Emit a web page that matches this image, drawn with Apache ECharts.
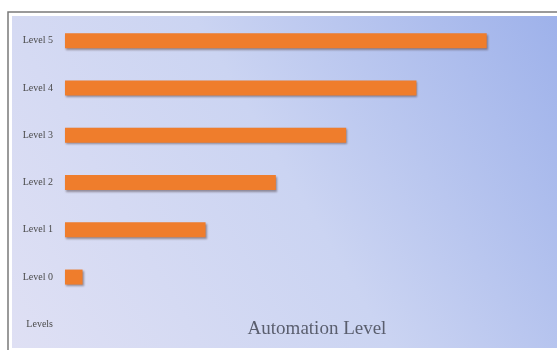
<!DOCTYPE html>
<html><head><meta charset="utf-8">
<script src="https://cdn.jsdelivr.net/npm/echarts@6/dist/echarts.min.js"></script>
<style>html,body{margin:0;padding:0;background:#fff}#c{width:557px;height:350px}</style>
</head><body><div id="c"></div>
<script>
var categories = ['Level 5','Level 4','Level 3','Level 2','Level 1','Level 0','Levels'];
var values = [6, 5, 4, 3, 2, 0.25, null];
var chartTitle = 'Automation Level';

var chart = echarts.init(document.getElementById('c'));
chart.setOption({
  animation: false,
  backgroundColor: '#fff',
  graphic: [
    {type:'rect', shape:{x:8,y:12,width:560,height:350}, style:{fill:'#fff', stroke:'#7a7a7a', lineWidth:1.5}, z:-10},
    {type:'rect', shape:{x:12,y:16,width:560,height:332}, style:{fill:new echarts.graphic.LinearGradient(0,1,1,0,[{offset:0,color:'#dfe0f4'},{offset:0.5,color:'#cbd4f2'},{offset:1,color:'#9cb0ea'}])}, z:-9}
  ],
  title: {text: chartTitle, left: 312, top: 315, textAlign:'center', textStyle:{fontFamily:'Liberation Serif', fontSize:19, fontWeight:'normal', color:'#5a5e6e'}},
  grid: {left: 65, top: 17, height: 331, right: -1},
  xAxis: {type:'value', min:0, max:7, show:false},
  yAxis: {type:'category', data: categories, inverse:true,
    axisLine:{show:false}, axisTick:{show:false},
    axisLabel:{fontFamily:'Liberation Serif', fontSize:10, color:'#4a4a4a', margin:12}},
  series: [{type:'bar', data: values, barWidth: 15,
    itemStyle:{color:'#ef7d2c', shadowBlur:2, shadowOffsetX:1, shadowOffsetY:1.5, shadowColor:'rgba(60,40,40,0.45)'}}]
});
</script></body></html>
